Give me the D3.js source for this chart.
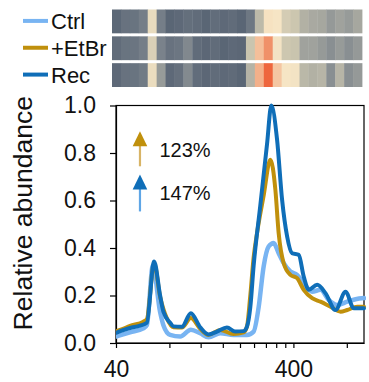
<!DOCTYPE html>
<html>
<head>
<meta charset="utf-8">
<script src="https://cdn.jsdelivr.net/npm/d3@7/dist/d3.min.js"></script>
<style>
  html, body { margin: 0; padding: 0; background: #fff; }
  svg { display: block; font-family: "Liberation Sans", Arial, sans-serif; }
</style>
</head>
<body>
<svg id="chart" width="369" height="382"></svg>
<script>
// ---- series: [size, relative abundance] ----
const seriesNames = ["Ctrl", "+EtBr", "Rec"];
const seriesColors = ["#78b4f2", "#c0900c", "#0f6eb8"];

const ctrlPoints = [
  [40, 0.027], [48, 0.045], [57.1, 0.062], [59.7, 0.075], [64.5, 0.325], [70.9, 0.13],
  [74, 0.075], [80.8, 0.034], [92, 0.027], [105.7, 0.056], [119.3, 0.041], [132.9, 0.024],
  [154.8, 0.041], [184, 0.034], [219, 0.034], [238.7, 0.048], [254.7, 0.15], [271.8, 0.322],
  [290, 0.406], [309.6, 0.421], [330.3, 0.378], [352.6, 0.336], [384.7, 0.301], [419.7, 0.287],
  [457.3, 0.252], [510.1, 0.216], [568.4, 0.224], [633.2, 0.181], [706.3, 0.16], [804.4, 0.174],
  [896, 0.184], [1000, 0.189]
];

const etbrPoints = [
  [40, 0.05], [42.1, 0.055], [48, 0.072], [57.1, 0.09], [59.7, 0.1], [65.6, 0.336],
  [70.9, 0.195], [77.4, 0.104], [84.3, 0.066], [94, 0.065], [105.7, 0.105], [119.3, 0.06],
  [132.9, 0.034], [154.8, 0.055], [184, 0.038], [209.6, 0.045], [219, 0.07], [228.6, 0.2],
  [238.7, 0.36], [249.5, 0.463], [271.8, 0.62], [296.6, 0.772], [316.5, 0.646], [330.3, 0.463],
  [352.6, 0.336], [384.7, 0.287], [419.7, 0.273], [457.3, 0.224], [510.1, 0.189], [568.4, 0.174],
  [647.3, 0.153], [737.5, 0.132], [804.4, 0.139], [916, 0.153], [1000, 0.153]
];

const recPoints = [
  [40, 0.043], [48, 0.063], [54.6, 0.073], [59.7, 0.085], [65.6, 0.343], [70.9, 0.2],
  [74, 0.132], [80.8, 0.085], [84.3, 0.07], [94, 0.068], [105.7, 0.125], [119.3, 0.066],
  [132.9, 0.036], [148.3, 0.048], [168.8, 0.065], [188.1, 0.048], [209.6, 0.05], [219, 0.069],
  [228.6, 0.15], [238.7, 0.325], [260.4, 0.58], [284, 0.837], [300.4, 1.0], [323.5, 0.857],
  [345.4, 0.603], [368.6, 0.449], [393.3, 0.378], [428.6, 0.371], [457.3, 0.28], [488.1, 0.224],
  [544.4, 0.245], [606.5, 0.21], [690.8, 0.139], [786.9, 0.216], [876.5, 0.146], [1000, 0.146]
];

// ---- binned abundance shown as strips above the plot (28 bins per sample) ----
const ctrlBins = [0.038, 0.055, 0.058, 0.075, 0.33, 0.075, 0.035, 0.04, 0.05, 0.045, 0.035, 0.047, 0.04, 0.045,
                  0.035, 0.065, 0.2, 0.4, 0.38, 0.26, 0.23, 0.18, 0.165, 0.16, 0.13, 0.15, 0.135, 0.16];
const etbrBins = [0.045, 0.058, 0.06, 0.075, 0.28, 0.083, 0.055, 0.062, 0.095, 0.045, 0.037, 0.045, 0.035, 0.04,
                  0.037, 0.225, 0.6, 0.78, 0.37, 0.235, 0.22, 0.15, 0.15, 0.133, 0.11, 0.135, 0.11, 0.13];
const recBins  = [0.04, 0.055, 0.058, 0.07, 0.34, 0.135, 0.04, 0.052, 0.1, 0.047, 0.037, 0.045, 0.04, 0.043,
                  0.035, 0.185, 0.66, 0.97, 0.56, 0.38, 0.37, 0.195, 0.18, 0.19, 0.11, 0.19, 0.11, 0.13];

const heatStops  = [0.03, 0.08, 0.15, 0.22, 0.38, 0.6, 0.8, 1.0];
const heatColors = ["#576373", "#78818a", "#a0a29d", "#c9c4ae", "#f6e5c5", "#f4bf9a", "#ef8c63", "#ee5f38"];

// ---- axis ticks ----
const xTicks = [40, 80, 120, 160, 200, 240, 280, 320, 360, 400, 800];
const xTickLabels = [40, 400];
const yTicks = [0, 0.2, 0.4, 0.6, 0.8, 1.0];

// ---- fold-change annotations ----
const changeLabels = ["123%", "147%"];
const changeSeries = [1, 2];
const arrowTops = [0.892, 0.709];
const arrowBottoms = [0.744, 0.554];
const shaftColors = ["#d8b466", "#5fa6e6"];

// ================= drawing =================
const svg = d3.select("#chart");
const plot = { left: 116, right: 364, top: 105.5, bottom: 343 };

const x = d3.scaleLog().domain([40, 1000]).range([plot.left, plot.right]);
const y = d3.scaleLinear().domain([0, 1]).range([plot.bottom, plot.top]);

// heat strips
const binCount = ctrlBins.length;
const bx = d3.scaleBand().domain(d3.range(binCount)).range([112, 362]).padding(0);
const by = d3.scaleBand().domain(seriesNames).range([9.5, 87]).paddingInner(0.112);
const heat = d3.scaleLinear().domain(heatStops).range(heatColors).clamp(true);
const binRows = [ctrlBins, etbrBins, recBins];

binRows.forEach((row, r) => {
  svg.append("g")
    .selectAll("rect")
    .data(row)
    .join("rect")
      .attr("x", (d, i) => bx(i))
      .attr("y", by(seriesNames[r]))
      .attr("width", bx.bandwidth() + 0.4)
      .attr("height", by.bandwidth())
      .attr("fill", d => heat(d));
});

// legend
const legend = svg.append("g");
seriesNames.forEach((name, i) => {
  const cy = by(name) + by.bandwidth() / 2 - 0.5;
  legend.append("line")
    .attr("x1", 23).attr("x2", 48).attr("y1", cy).attr("y2", cy)
    .attr("stroke", seriesColors[i]).attr("stroke-width", 4);
  legend.append("text")
    .attr("x", 51).attr("y", cy + 8)
    .attr("font-size", 22).attr("fill", "#111")
    .text(name);
});

// axes
const yAxis = d3.axisLeft(y).tickValues(yTicks).tickFormat(d3.format(".1f"))
  .tickSize(6).tickSizeOuter(0).tickPadding(14);
const gy = svg.append("g").attr("transform", `translate(${plot.left},0)`).call(yAxis);

const xAxis = d3.axisBottom(x).tickValues(xTicks)
  .tickFormat(d => xTickLabels.includes(d) ? String(d) : "")
  .tickSize(5).tickSizeOuter(0).tickPadding(13);
const gx = svg.append("g").attr("transform", `translate(0,${plot.bottom})`).call(xAxis);

[gx, gy].forEach(g => {
  g.selectAll("path, line").attr("stroke", "#000").attr("stroke-width", 1.2);
  g.selectAll("text").attr("font-size", 23).attr("fill", "#111")
    .attr("font-family", "Liberation Sans, Arial, sans-serif");
});

// frame
svg.append("rect")
  .attr("x", plot.left).attr("y", plot.top)
  .attr("width", plot.right - plot.left).attr("height", plot.bottom - plot.top)
  .attr("fill", "none").attr("stroke", "#000").attr("stroke-width", 1.2);

// y title
svg.append("text")
  .attr("transform", `translate(32,${(plot.top + plot.bottom) / 2 - 11}) rotate(-90)`)
  .attr("text-anchor", "middle")
  .attr("font-size", 26.5).attr("fill", "#111")
  .text("Relative abundance");

// curves
svg.append("clipPath").attr("id", "plotClip")
  .append("rect")
  .attr("x", plot.left).attr("y", plot.top - 4)
  .attr("width", plot.right - plot.left + 2).attr("height", plot.bottom - plot.top + 4);

const line = d3.line()
  .x(d => x(d[0]))
  .y(d => y(d[1]))
  .curve(d3.curveMonotoneX);

const curves = svg.append("g").attr("clip-path", "url(#plotClip)");
[ctrlPoints, etbrPoints, recPoints].forEach((pts, i) => {
  curves.append("path")
    .datum(pts)
    .attr("d", line)
    .attr("fill", "none")
    .attr("stroke", seriesColors[i])
    .attr("stroke-width", i === 0 ? 4.5 : 4)
    .attr("stroke-linejoin", "round")
    .attr("stroke-linecap", "round");
});

// arrows with fold change
const arrowX = x(54.6);
const textX = x(70.3);
changeLabels.forEach((label, i) => {
  const top = y(arrowTops[i]);
  const bottom = y(arrowBottoms[i]);
  const headH = 15, headW = 7.3;
  svg.append("line")
    .attr("x1", arrowX).attr("x2", arrowX)
    .attr("y1", top + headH - 1).attr("y2", bottom)
    .attr("stroke", shaftColors[i]).attr("stroke-width", 2.2);
  svg.append("path")
    .attr("d", `M${arrowX},${top} L${arrowX + headW},${top + headH} L${arrowX - headW},${top + headH} Z`)
    .attr("fill", seriesColors[changeSeries[i]]);
  svg.append("text")
    .attr("x", textX).attr("y", top + 25.5)
    .attr("font-size", 20).attr("fill", "#111")
    .text(label);
});
</script>
</body>
</html>
